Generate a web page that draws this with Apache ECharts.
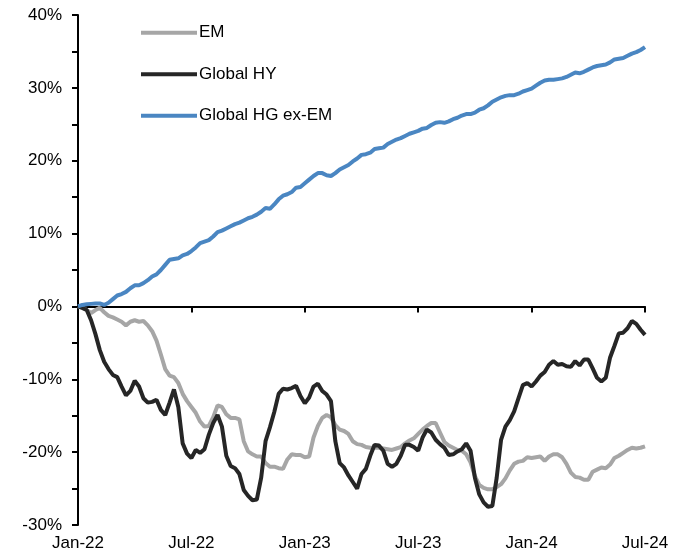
<!DOCTYPE html>
<html>
<head>
<meta charset="utf-8">
<script src="https://cdn.jsdelivr.net/npm/echarts@6/dist/echarts.min.js"></script>
<style>
html,body{margin:0;padding:0;background:#fff;}
#chart{width:684px;height:559px;}
</style>
</head>
<body>
<div id="chart"></div>
<script>
// Weekly observations, week 0 = Jan-22, week 130 = Jul-24
var tickLabels = ['Jan-22','Jul-22','Jan-23','Jul-23','Jan-24','Jul-24'];
var seriesNames = ['EM','Global HY','Global HG ex-EM'];

var emValues = [
 0,-0.2,-0.5,-0.9,-0.5,-0.2,-0.8,-1.3,-1.5,-1.8,
 -2.1,-2.6,-2.1,-1.9,-2.1,-2.0,-2.6,-3.4,-4.7,-6.6,
 -8.6,-9.5,-9.7,-10.5,-12.0,-13.0,-13.8,-14.6,-15.8,-16.5,
 -16.4,-15.2,-13.6,-13.8,-14.8,-15.3,-15.3,-15.5,-18.5,-19.9,
 -20.3,-20.6,-20.6,-21.5,-22.0,-22.0,-22.2,-22.3,-21.0,-20.3,
 -20.4,-20.4,-20.7,-20.6,-18.0,-16.4,-15.3,-14.9,-15.2,-16.3,
 -16.9,-17.1,-17.5,-18.5,-18.9,-19.0,-19.3,-19.4,-19.4,-19.4,
 -19.5,-19.6,-19.7,-19.5,-19.3,-18.8,-18.4,-18.1,-17.5,-16.9,
 -16.4,-16.0,-16.0,-17.3,-18.6,-19.1,-19.4,-19.7,-19.8,-20.3,
 -21.4,-23.3,-24.5,-24.9,-25.1,-25.1,-24.8,-24.4,-23.6,-22.5,
 -21.6,-21.3,-21.2,-20.7,-20.8,-20.7,-20.6,-21.2,-20.6,-20.3,
 -20.3,-20.7,-21.6,-22.8,-23.4,-23.5,-23.8,-23.8,-22.7,-22.4,
 -22.1,-22.2,-21.7,-20.8,-20.5,-20.1,-19.7,-19.4,-19.5,-19.4,
 -19.2
];

var hyValues = [
 0,-0.2,-0.5,-1.9,-3.8,-6.0,-7.6,-8.6,-9.4,-9.7,
 -11.0,-12.2,-11.6,-10.2,-11.0,-12.6,-13.2,-13.1,-12.8,-14.2,
 -14.9,-13.2,-11.4,-13.8,-18.8,-20.2,-20.8,-19.7,-20.1,-19.6,
 -17.6,-16.0,-14.9,-16.5,-20.5,-21.9,-22.2,-23.0,-25.2,-26.0,
 -26.6,-26.5,-23.5,-18.5,-16.6,-14.5,-12.0,-11.3,-11.4,-11.2,
 -10.9,-12.3,-13.3,-12.5,-11.0,-10.6,-11.6,-12.1,-13.0,-18.5,
 -21.5,-22.1,-23.2,-24.1,-25.0,-23.0,-22.3,-20.5,-19.0,-19.1,
 -19.8,-21.6,-22.0,-21.6,-20.5,-19.0,-19.0,-19.3,-19.8,-18.0,
 -16.9,-17.3,-18.3,-18.9,-19.4,-20.4,-20.3,-19.9,-19.6,-18.8,
 -19.8,-23.5,-25.8,-26.9,-27.5,-27.4,-23.5,-18.3,-16.5,-15.6,
 -14.4,-12.6,-10.8,-10.5,-11.0,-10.3,-9.5,-9.0,-8.0,-7.5,
 -8.0,-7.9,-8.2,-8.3,-7.5,-8.1,-7.3,-7.3,-8.5,-9.8,
 -10.3,-9.8,-7.0,-5.4,-3.7,-3.6,-3.0,-2.0,-2.4,-3.2,
 -3.9
];

var hgValues = [
 0,0.2,0.3,0.35,0.4,0.4,0.2,0.5,1.0,1.5,
 1.7,2.0,2.5,2.9,2.9,3.2,3.6,4.1,4.4,5.0,
 5.7,6.4,6.5,6.6,7.0,7.2,7.6,8.1,8.7,8.9,
 9.1,9.6,10.2,10.4,10.7,11.0,11.3,11.5,11.8,12.1,
 12.3,12.6,13.0,13.5,13.4,14.0,14.7,15.2,15.4,15.7,
 16.3,16.4,16.9,17.4,17.9,18.3,18.3,18.0,17.9,18.3,
 18.8,19.1,19.4,19.9,20.3,20.8,20.9,21.1,21.6,21.7,
 21.8,22.3,22.6,22.9,23.1,23.4,23.7,23.9,24.1,24.4,
 24.5,24.9,25.2,25.3,25.2,25.4,25.7,25.9,26.2,26.4,
 26.4,26.6,27.0,27.2,27.6,28.1,28.4,28.7,28.9,29.0,
 29.0,29.2,29.5,29.7,29.9,30.3,30.7,31.0,31.1,31.1,
 31.2,31.3,31.5,31.8,32.1,32.0,32.2,32.5,32.8,33.0,
 33.1,33.2,33.5,33.9,34.0,34.1,34.4,34.7,34.9,35.2,
 35.6
];

var WEEKS_PER_TICK = 26;
var FONT = "'Liberation Sans', Arial, sans-serif";

function toPairs(arr){ return arr.map(function(v,i){ return [i, v]; }); }

var chart = echarts.init(document.getElementById('chart'), null, {renderer:'canvas'});
var lastWeek = (tickLabels.length - 1) * WEEKS_PER_TICK;

chart.setOption({
  animation: false,
  backgroundColor: '#ffffff',
  grid: { left: 78, right: 39, top: 15, bottom: 34, containLabel: false },
  legend: {
    orient: 'vertical',
    left: 136,
    top: 17,
    itemWidth: 56,
    itemHeight: 4,
    itemGap: 20,
    icon: 'rect',
    data: seriesNames,
    textStyle: { fontFamily: FONT, fontSize: 17, color: '#000', lineHeight: 21.5, padding: [0,0,0,-3] }
  },
  xAxis: [
    {
      type: 'value', min: 0, max: lastWeek, interval: WEEKS_PER_TICK,
      axisLine: { show: true, onZero: true, lineStyle: { color: '#000', width: 2 } },
      axisTick: { show: true, inside: false, length: 6, lineStyle: { color: '#000', width: 2 } },
      axisLabel: { show: false },
      splitLine: { show: false }
    },
    {
      type: 'value', min: 0, max: lastWeek, interval: WEEKS_PER_TICK,
      position: 'bottom',
      axisLine: { show: false, onZero: false },
      axisTick: { show: false },
      axisLabel: {
        show: true, margin: 10, fontFamily: FONT, fontSize: 17, color: '#000',
        formatter: function(v){ return tickLabels[Math.round(v / WEEKS_PER_TICK)] || ''; }
      },
      splitLine: { show: false }
    }
  ],
  yAxis: {
    type: 'value', min: -30, max: 40, interval: 5,
    axisLine: { show: true, onZero: false, lineStyle: { color: '#000', width: 2 } },
    axisTick: { show: true, inside: false, length: 6, lineStyle: { color: '#000', width: 2 } },
    axisLabel: {
      margin: 16, fontFamily: FONT, fontSize: 17, color: '#000',
      formatter: function(v){ return (Math.round(v) % 10 === 0) ? (Math.round(v) + '%') : ''; }
    },
    splitLine: { show: false }
  },
  series: [
    { name: seriesNames[0], type: 'line', xAxisIndex: 0, data: toPairs(emValues), showSymbol: false, symbol: 'none',
      lineStyle: { color: '#a6a6a6', width: 4 }, itemStyle: { color: '#a6a6a6' } },
    { name: seriesNames[1], type: 'line', xAxisIndex: 0, data: toPairs(hyValues), showSymbol: false, symbol: 'none',
      lineStyle: { color: '#262626', width: 4 }, itemStyle: { color: '#262626' } },
    { name: seriesNames[2], type: 'line', xAxisIndex: 0, data: toPairs(hgValues), showSymbol: false, symbol: 'none',
      lineStyle: { color: '#4a86c2', width: 4 }, itemStyle: { color: '#4a86c2' } }
  ]
});
</script>
</body>
</html>
